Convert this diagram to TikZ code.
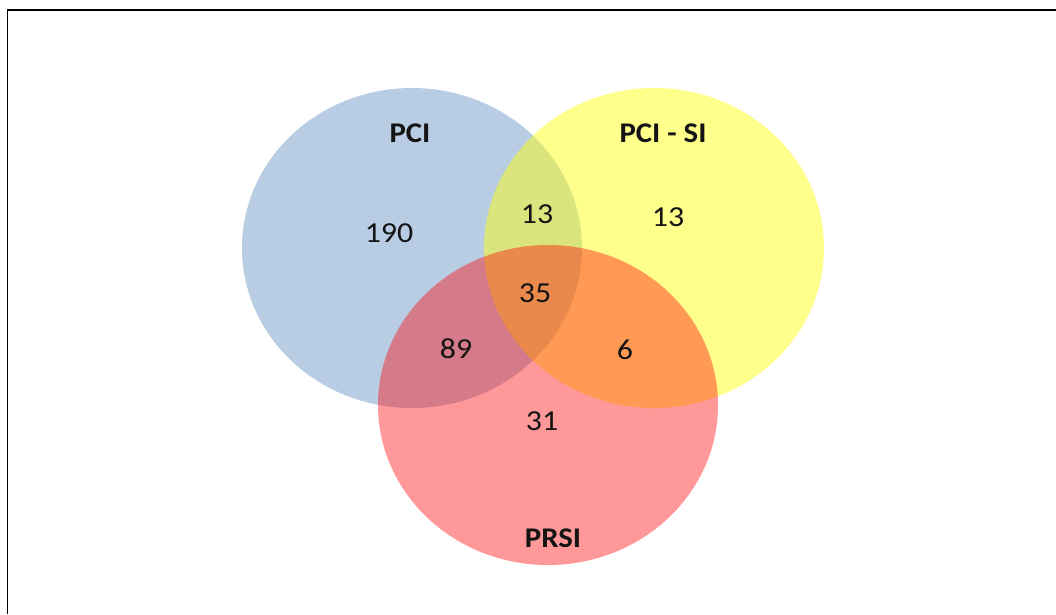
\documentclass[tikz,border=0pt]{standalone}
\usepackage{fontspec}
\setmainfont{Carlito}
\definecolor{pciblue}{RGB}{184,204,228}
\definecolor{siyellow}{RGB}{255,255,24}
\definecolor{prsired}{RGB}{255,0,0}
\definecolor{inkgray}{RGB}{20,20,20}
\begin{document}
\begin{tikzpicture}[x=1pt,y=-1pt,
  setlabel/.style={font=\fontsize{28.5}{30}\selectfont\bfseries, text=inkgray, inner sep=0pt, xscale=1.08},
  count/.style={font=\fontsize{29}{30}\selectfont, text=inkgray, inner sep=0pt, xscale=1.1},
  frameline/.style={line width=1.3pt, black}]
\useasboundingbox (0,0) rectangle (1056,614);

% the three sets, later ones laid semi-transparently over earlier ones
\fill[pciblue] (412,248) ellipse [x radius=170, y radius=160];
\fill[siyellow, fill opacity=0.5] (654,248) ellipse [x radius=170, y radius=160];
\fill[prsired, fill opacity=0.4] (548,405) ellipse [x radius=170, y radius=160];

% frame along the top and left edges
\draw[frameline] (7.5,614) -- (7.5,10) -- (1056,10);

% set names
\node[setlabel] (pci)   at (410,133) {PCI};
\node[setlabel] (pcisi) at (663,133) {PCI - SI};
\node[setlabel] (prsi)  at (553,538) {PRSI};

% region counts
\node[count] (onlypci)   at (389,233) {190};
\node[count] (pciandsi)  at (537,214) {13};
\node[count] (onlysi)    at (668,217) {13};
\node[count] (allthree)  at (535,293) {35};
\node[count] (pciprsi)   at (456,349) {89};
\node[count] (siprsi)    at (625,350) {6};
\node[count] (onlyprsi)  at (542,421) {31};
\end{tikzpicture}
\end{document}
